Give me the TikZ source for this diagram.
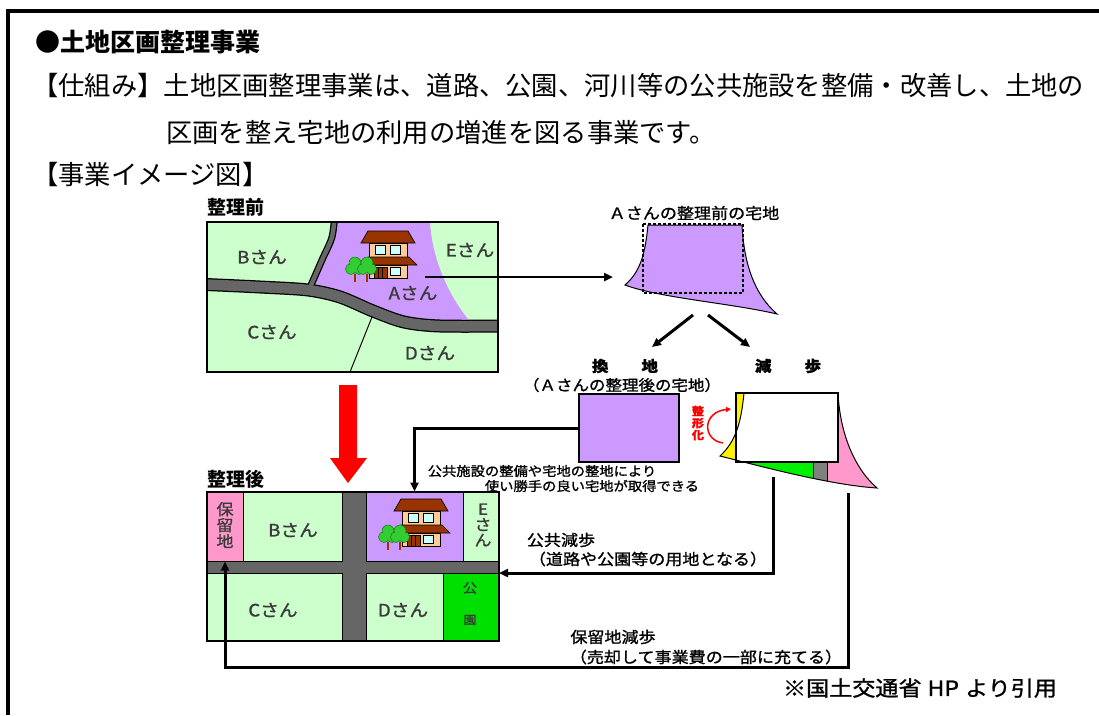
\documentclass[tikz,border=0pt]{standalone}
\usepackage{fontspec}
\newfontfamily\jp{Noto Sans CJK JP}
% slightly widened, heavier face for the diagram labels
\newfontfamily\jpw[FakeStretch=1.1, FakeBold=1.2]{Noto Sans CJK JP}
\usetikzlibrary{arrows.meta,calc,fit}

\definecolor{land}{HTML}{CCFFCC}
\definecolor{apurple}{HTML}{CC99FF}
\definecolor{hpink}{HTML}{FF99CC}
\definecolor{parkgreen}{HTML}{00E000}
\definecolor{cutgreen}{HTML}{00F000}
\definecolor{roadgray}{HTML}{666666}
\definecolor{stripgray}{HTML}{808080}
\definecolor{roofbrown}{HTML}{993300}
\definecolor{wall}{HTML}{FFCC99}
\definecolor{glass}{HTML}{CCFFFF}
\definecolor{leaf}{HTML}{33CC33}
\definecolor{leafdark}{HTML}{117711}
\definecolor{labelgray}{HTML}{3A3A3A}

% outline of Mr. A's plot, origin at its top-left corner
\newcommand\lotpath{(0,0) -- (94,0) .. controls (96,40) and (107,70) .. (129,89)
  .. controls (82,78) and (12,73) .. (-23,60) .. controls (-8,47) and (-3,30) .. (0,0) -- cycle}
% the same plot as laid under the new rectangular lot
\newcommand\lotpathB{(0,0) -- (94,0) .. controls (96,40) and (110,75) .. (133,95)
  .. controls (85,92) and (12,72) .. (-24,63) .. controls (-8,48) and (-3,30) .. (0,0) -- cycle}

\tikzset{
  hdr/.style={font=\jp\fontsize{26.3}{30}\selectfont, anchor=west, inner sep=0pt},
  headtxt/.style={font=\jp\bfseries\fontsize{19}{19}\selectfont, inner sep=0pt},
  lbl/.style={font=\jpw\fontsize{17}{17}\selectfont, text=labelgray, inner sep=0pt, align=center},
  captxt/.style={font=\jpw\fontsize{15.5}{17}\selectfont, inner sep=0pt},
  notetxt/.style={font=\jpw\fontsize{13}{15}\selectfont, inner sep=0pt},
  conn/.style={line width=3pt, -{Triangle[length=9pt,width=8pt]}},
  lotbox/.style={draw=black, line width=1pt, inner sep=0pt},
  roadedge/.style={draw=black},
  roadfill/.style={draw=roadgray},
  house/.pic={
    \filldraw[fill=roofbrown, draw=black, line width=0.7pt] (-20,-29) -- (20,-29) -- (27,-17) -- (-27,-17) -- cycle;
    \filldraw[fill=wall, draw=black, line width=0.7pt] (-19,-17) rectangle (19,-3);
    \filldraw[fill=glass, draw=black, line width=0.7pt] (-13,-15) rectangle (-3,-6);
    \filldraw[fill=glass, draw=black, line width=0.7pt] (2,-15) rectangle (12,-6);
    \filldraw[fill=roofbrown, draw=black, line width=0.7pt] (-20,-3) -- (21,-3) -- (29,5) -- (-25,5) -- cycle;
    \filldraw[fill=wall, draw=black, line width=0.7pt] (-19,5) rectangle (19,18);
    \filldraw[fill=roofbrown, draw=black, line width=0.7pt] (-14,7) rectangle (-1,18);
    \draw[black, line width=0.5pt] (-9.7,7) -- (-9.7,18) (-5.3,7) -- (-5.3,18);
    \filldraw[fill=glass, draw=black, line width=0.7pt] (2,7) rectangle (12,15);
    \foreach \tx in {-33,-21} {
      \fill[roofbrown] (\tx-1.3,14) rectangle (\tx+1.3,22);
      \filldraw[fill=leaf, draw=leafdark, line width=0.5pt]
        (\tx-4,9) circle (5.5) (\tx+4,9) circle (5.5) (\tx,3) circle (6);
      \fill[leaf] (\tx-4,9) circle (4.8) (\tx+4,9) circle (4.8) (\tx,3) circle (5.3);
    }
  }
}

\begin{document}
\begin{tikzpicture}[x=1pt,y=-1pt]
\useasboundingbox (0,0) rectangle (1099,715);
\fill[white] (0,0) rectangle (1099,715);
\draw[line width=4pt] (8,715) -- (8,11) -- (1099,11);

% heading text
\node[hdr, font=\jp\bfseries\fontsize{25}{25}\selectfont] (title) at (35,42) {●土地区画整理事業};
\node[hdr] (mech1) at (32,86) {【仕組み】土地区画整理事業は、道路、公園、河川等の公共施設を整備・改善し、土地の};
\node[hdr] (mech2) at (166,133) {区画を整え宅地の利用の増進を図る事業です。};
\node[hdr] (imghead) at (32,175) {【事業イメージ図】};

% ---------- before readjustment ----------
\node[headtxt] (beforeTitle) at (236,207) {整理前};
\node[fit={(207,222)(498,372)}, inner sep=0pt] (before) {};
\begin{scope}
  \clip (207,222) rectangle (498,372);
  \fill[land] (207,222) rectangle (498,372);
  \fill[apurple] (310,287) -- (322,260) -- (332,237) -- (335,215) -- (430,215) -- (430,222)
    .. controls (432,260) and (450,300) .. (474,326) -- (404,322) -- (373,311) -- (340,297) -- cycle;
  \draw[black, line width=1pt] (372,317) -- (350,372);
  \draw[roadedge, line width=13pt] plot[smooth] coordinates {(195,284) (260,287) (308,290) (340,297) (373,311) (404,322) (440,326) (510,326)};
  \draw[roadedge, line width=7pt] plot[smooth] coordinates {(308,292) (322,260) (332,237) (335,212)};
  \draw[roadfill, line width=10.5pt] plot[smooth] coordinates {(195,284) (260,287) (308,290) (340,297) (373,311) (404,322) (440,326) (510,326)};
  \draw[roadfill, line width=4.5pt] plot[smooth] coordinates {(308,292) (322,260) (332,237) (335,212)};
  \pic at (388,260) {house};
  \node[lbl] (bB) at (262,257) {Bさん};
  \node[lbl] (bE) at (470,250) {Eさん};
  \node[lbl] (bA) at (413,293) {Aさん};
  \node[lbl] (bC) at (272,332) {Cさん};
  \node[lbl] (bD) at (430,353) {Dさん};
\end{scope}
\draw[line width=1.5pt] (207,222) rectangle (498,372);

% Mr. A's plot before readjustment
\node[captxt] (lotTitle) at (694,213) {Ａさんの整理前の宅地};
\begin{scope}[shift={(648,225)}]
  \filldraw[fill=apurple, draw=black, line width=1pt] \lotpath;
  \draw[line width=1.2pt, dash pattern=on 3pt off 2pt] (-5,-1) rectangle (95,68);
\end{scope}
\coordinate (aHome) at (425,277);
\coordinate (lotTip) at (613,277);
\draw[conn, line width=2.5pt] (aHome) -- (lotTip);

\coordinate (splitL) at (693,315);
\coordinate (splitR) at (708,315);
\coordinate (kanchiIn) at (652,347);
\coordinate (genbuIn) at (750,347);
\draw[conn] (splitL) -- (kanchiIn);
\draw[conn] (splitR) -- (genbuIn);

% replotted land
\node[captxt, font=\jpw\bfseries\fontsize{15}{17}\selectfont] (kanchiLbl) at (625,366) {換　　地};
\node[captxt, font=\jpw\fontsize{15}{17}\selectfont] (kanchiSub) at (622,385) {（Ａさんの整理後の宅地）};
\node[lotbox, fill=apurple, line width=1.5pt, minimum width=100pt, minimum height=68pt] (kanchi) at (629,428) {};
\node[notetxt] (gain1) at (542,471) {公共施設の整備や宅地の整地により};
\node[notetxt] (gain2) at (592,486) {使い勝手の良い宅地が取得できる};

% land contribution
\node[captxt, font=\jpw\bfseries\fontsize{15}{17}\selectfont] (genbuLbl) at (788,366) {減　　歩};
\begin{scope}[shift={(744,393)}]
  \begin{scope}
    \clip (-40,-5) rectangle (2,110);
    \fill[yellow, even odd rule] \lotpathB (-8,0) rectangle (94,69);
  \end{scope}
  \begin{scope}
    \clip (2,-5) rectangle (69,110);
    \fill[cutgreen, even odd rule] \lotpathB (-8,0) rectangle (94,69);
  \end{scope}
  \begin{scope}
    \clip (69,-5) rectangle (83,110);
    \fill[stripgray, even odd rule] \lotpathB (-8,0) rectangle (94,69);
  \end{scope}
  \begin{scope}
    \clip (83,-5) rectangle (150,110);
    \fill[hpink, even odd rule] \lotpathB (-8,0) rectangle (94,69);
  \end{scope}
  \begin{scope}
    \clip \lotpathB;
    \draw[line width=1pt] (69,69) -- (69,110) (83,69) -- (83,110);
  \end{scope}
  \draw[line width=1pt] \lotpathB;
  \draw[line width=1.5pt] (-8,0) rectangle (94,69);
\end{scope}
\node[font=\jpw\bfseries\fontsize{11}{12}\selectfont, text=red, align=center, inner sep=0pt] (seikei) at (698,423) {整\\形\\化};
\coordinate (arcS) at (723,443);
\coordinate (arcE) at (731,409);
\draw[red, line width=1.5pt, -{Triangle[length=5pt,width=5pt]}] (arcS) .. controls (702,440) and (702,412) .. (arcE);

% ---------- after readjustment ----------
\node[headtxt] (afterTitle) at (236,479) {整理後};
\fill[red] (339,385) -- (357,385) -- (357,458) -- (367,458) -- (348,483) -- (330,458) -- (339,458) -- cycle;

\fill[roadgray] (207,492) rectangle (499,641);
\node[lotbox, fill=hpink, fit={(207,492)(243,561)}] (hold) {};
\node[lotbox, fill=land, fit={(243,492)(342,561)}] (afterB) {};
\node[lotbox, fill=apurple, fit={(366,492)(463,561)}] (afterA) {};
\node[lotbox, fill=land, fit={(463,492)(499,561)}] (afterE) {};
\node[lotbox, fill=land, fit={(207,573)(342,641)}] (afterC) {};
\node[lotbox, fill=land, fit={(366,573)(443,641)}] (afterD) {};
\node[lotbox, fill=parkgreen, fit={(443,573)(499,641)}] (park) {};
\draw[line width=1.5pt] (207,492) rectangle (499,641);
\pic at (421,528) {house};

\node[lbl, font=\jpw\fontsize{15.5}{16}\selectfont] (holdLbl) at (225,525) {保\\留\\地};
\node[lbl] (aB) at (293,530) {Bさん};
\node[lbl, font=\jpw\fontsize{15.5}{15.5}\selectfont] (aE) at (483,525) {E\\さ\\ん};
\node[lbl] (aC) at (273,610) {Cさん};
\node[lbl] (aD) at (403,610) {Dさん};
\node[lbl, font=\jpw\fontsize{13}{13}\selectfont] (parkA) at (470,588) {公};
\node[lbl, font=\jpw\fontsize{11.5}{12}\selectfont] (parkB) at (470,620) {園};

% connectors into the new layout
\draw[conn] (kanchi.west) -| (afterA.north);
\coordinate (pubSrc) at (773,477);
\coordinate (roadIn) at (499,573);
\draw[conn] (pubSrc) |- (roadIn);
\coordinate (resSrc) at (848,493);
\draw[conn] (resSrc) |- ($(hold.south)+(0,106)$) -- (hold.south);

\node[captxt] (pubLbl) at (561,540) {公共減歩};
\node[captxt] (pubSub) at (648,559) {（道路や公園等の用地となる）};
\node[captxt] (resLbl) at (613,637) {保留地減歩};
\node[captxt] (resSub) at (706,657) {（売却して事業費の一部に充てる）};
\node[font=\jpw\fontsize{21}{21}\selectfont, inner sep=0pt] (src) at (920,688) {※国土交通省\hspace{6pt}HP\hspace{6pt}より引用};
\end{tikzpicture}
\end{document}
